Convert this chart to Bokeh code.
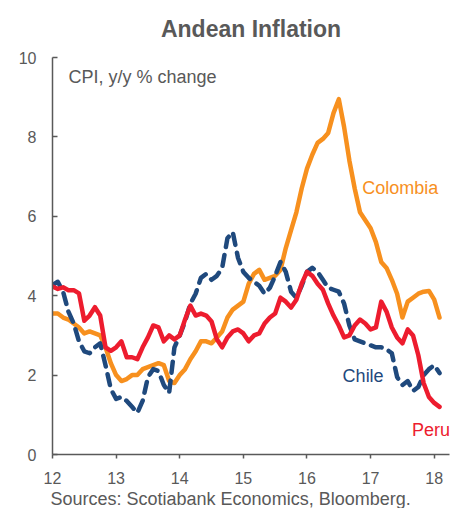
from bokeh.plotting import figure
from bokeh.models import Range1d, Label, Title, FixedTicker, ColumnDataSource
from bokeh.embed import file_html
from bokeh.resources import INLINE

# Monthly data, Jan 2012 .. Feb 2018 (x in decimal years, 12 = 2012)
start_year = 12.0
colombia = [3.55, 3.55, 3.45, 3.4, 3.3, 3.2, 3.05, 3.1, 3.05, 3.0, 2.7, 2.3,
            2.0, 1.85, 1.9, 2.0, 2.0, 2.15, 2.2, 2.25, 2.3, 2.25, 1.85, 1.8,
            2.0, 2.15, 2.4, 2.6, 2.85, 2.85, 2.8, 2.95, 3.1, 3.45, 3.65, 3.75,
            3.85, 4.3, 4.55, 4.65, 4.4, 4.45, 4.5, 4.65, 5.2, 5.65, 6.1, 6.7,
            7.2, 7.55, 7.85, 7.95, 8.1, 8.6, 8.95, 8.25, 7.4, 6.7, 6.1, 5.9,
            5.7, 5.35, 4.85, 4.7, 4.4, 4.05, 3.45, 3.85, 3.95, 4.05, 4.1, 4.12,
            3.9, 3.45]
chile = [4.27, 4.35, 4.1, 3.6, 3.3, 2.85, 2.6, 2.55, 2.7, 2.8, 2.25, 1.65,
         1.4, 1.45, 1.35, 1.2, 1.05, 1.35, 1.95, 2.15, 2.1, 1.75, 1.55, 2.7,
         3.0, 3.35, 3.8, 4.05, 4.45, 4.55, 4.4, 4.5, 4.7, 5.45, 5.6, 4.95,
         4.6, 4.45, 4.35, 4.25, 4.05, 4.2, 4.5, 4.85, 4.6, 4.1, 3.95, 4.25,
         4.6, 4.7, 4.6, 4.4, 4.2, 4.15, 4.1, 3.8, 3.25, 2.9, 2.85, 2.8,
         2.75, 2.7, 2.7, 2.65, 2.55, 1.95, 1.75, 1.85, 1.6, 1.7, 2.0, 2.15,
         2.25, 2.05]
peru = [4.23, 4.17, 4.21, 4.14, 4.14, 4.06, 3.37, 3.5, 3.71, 3.5, 2.7, 2.61,
        2.7, 2.85, 2.45, 2.45, 2.4, 2.7, 2.95, 3.25, 3.2, 2.85, 3.0, 2.9,
        3.0, 3.4, 3.75, 3.5, 3.55, 3.5, 3.35, 2.9, 2.7, 2.95, 3.1, 3.15,
        3.05, 2.85, 3.0, 3.05, 3.3, 3.45, 3.55, 3.95, 3.85, 3.7, 3.9, 4.3,
        4.6, 4.5, 4.3, 4.15, 3.8, 3.5, 3.25, 2.95, 3.0, 3.25, 3.4, 3.3,
        3.15, 3.2, 3.85, 3.6, 3.2, 2.95, 2.8, 3.15, 3.0, 2.5, 1.8, 1.45,
        1.3, 1.2]
x_ticks = [12, 13, 14, 15, 16, 17, 18]
y_ticks = [0, 2, 4, 6, 8, 10]

months = [start_year + i / 12 for i in range(len(peru))]
src = ColumnDataSource(dict(x=months, colombia=colombia, chile=chile, peru=peru))

GREY = "#595959"
ORANGE = "#F7901E"
BLUE = "#1F497D"
RED = "#ED1C2E"
FONT = "Liberation Sans"

p = figure(width=452, height=508, output_backend="svg", toolbar_location=None,
           x_range=Range1d(12.0, 18.24), y_range=Range1d(0, 10),
           min_border_left=52, min_border_right=3, min_border_top=57,
           min_border_bottom=53)
p.outline_line_color = None
p.grid.grid_line_color = None
p.background_fill_color = "white"
p.border_fill_color = "white"

p.title.text = "Andean Inflation"
p.title.text_font = FONT
p.title.text_font_size = "23px"
p.title.text_font_style = "bold"
p.title.text_color = GREY
p.title.align = "center"
p.title.vertical_align = "top"
p.title.standoff = 28

p.line("x", "colombia", source=src, line_color=ORANGE, line_width=4.5, line_join="round", line_cap="round")
p.line("x", "chile", source=src, line_color=BLUE, line_width=4.5, line_dash="11 8", line_join="round", line_cap="round")
p.line("x", "peru", source=src, line_color=RED, line_width=4.5, line_join="round", line_cap="round")

for ax in (p.xaxis[0], p.yaxis[0]):
    ax.axis_line_color = GREY
    ax.axis_line_width = 1.5
    ax.major_tick_line_color = GREY
    ax.major_tick_line_width = 1.5
    ax.minor_tick_line_color = None
    ax.major_label_text_font = FONT
    ax.major_label_text_font_size = "16px"
    ax.major_label_text_color = GREY

p.xaxis.ticker = FixedTicker(ticks=x_ticks)
p.xaxis.major_tick_in = 0
p.xaxis.major_tick_out = 4
p.xaxis.major_label_standoff = 13

p.yaxis.ticker = FixedTicker(ticks=y_ticks)
p.yaxis.major_tick_in = 5
p.yaxis.major_tick_out = 0
p.yaxis.major_label_standoff = 16

p.add_layout(Label(x=12.25, y=9.5, text="CPI, y/y % change", text_font=FONT,
                   text_font_size="18px", text_color=GREY, text_baseline="middle"))
p.add_layout(Label(x=16.87, y=6.72, text="Colombia", text_font=FONT,
                   text_font_size="18px", text_color=ORANGE, text_baseline="middle"))
p.add_layout(Label(x=16.56, y=1.98, text="Chile", text_font=FONT,
                   text_font_size="18px", text_color=BLUE, text_baseline="middle"))
p.add_layout(Label(x=17.65, y=0.61, text="Peru", text_font=FONT,
                   text_font_size="18px", text_color=RED, text_baseline="middle"))

src_title = Title(text="Sources: Scotiabank Economics, Bloomberg.", align="left",
                  text_font=FONT, text_font_size="18px", text_font_style="normal",
                  text_color=GREY, standoff=0, offset=-2)
p.add_layout(src_title, "below")

open("out.html", "w").write(file_html(p, INLINE))
